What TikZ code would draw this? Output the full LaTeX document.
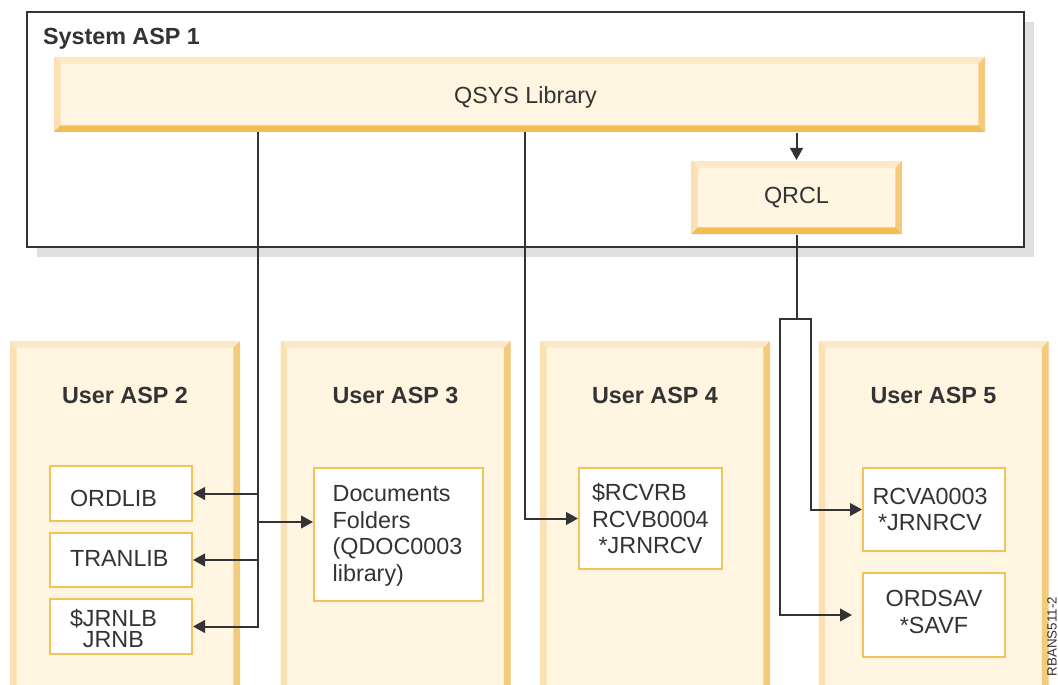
\documentclass[tikz,border=0pt]{standalone}
\usepackage{fontspec}
\setmainfont{Liberation Sans}
\usepackage{xcolor}
\usepackage{tikz}
\usetikzlibrary{arrows.meta,shadows}

\definecolor{cream}{HTML}{FFF5E1}
\definecolor{bevtop}{HTML}{FCE8C6}
\definecolor{bevleft}{HTML}{FAE0B2}
\definecolor{bevright}{HTML}{F4CB7C}
\definecolor{bevbot}{HTML}{F0BE52}
\definecolor{libline}{HTML}{F2C35A}
\definecolor{ink}{HTML}{333333}
\definecolor{shade}{HTML}{DFE0E2}

\newcommand\ppb{path picture bounding box}
\newcommand\bevw{5pt}

\begin{document}
\begin{tikzpicture}
        [x=0.75pt,y=-0.75pt,line width=1.5pt,color=ink,
        every node/.style={font=\fontsize{17.5}{20}\selectfont,text=ink,inner sep=0pt},
        ttl/.style={font=\fontsize{17.5}{20}\selectfont\bfseries},
        lib/.style={draw=libline,fill=white},
        arr/.style={-{Triangle[length=9pt,width=9.5pt]}},
        bevel/.style={fill=cream,path picture={
          \fill[bevtop] (\ppb.north west) -- (\ppb.north east) -- ([shift={(-\bevw,-\bevw)}]\ppb.north east) -- ([shift={(\bevw,-\bevw)}]\ppb.north west) -- cycle;
          \fill[bevleft] (\ppb.north west) -- ([shift={(\bevw,-\bevw)}]\ppb.north west) -- ([shift={(\bevw,\bevw)}]\ppb.south west) -- (\ppb.south west) -- cycle;
          \fill[bevright] (\ppb.north east) -- ([shift={(-\bevw,-\bevw)}]\ppb.north east) -- ([shift={(-\bevw,\bevw)}]\ppb.south east) -- (\ppb.south east) -- cycle;
          \fill[bevbot] (\ppb.south west) -- ([shift={(\bevw,\bevw)}]\ppb.south west) -- ([shift={(-\bevw,\bevw)}]\ppb.south east) -- (\ppb.south east) -- cycle;}}]
        \useasboundingbox (0,0) rectangle (1058,685);

        % system ASP
        \node[draw=ink,line width=1.8pt,fill=white,minimum width=747.75pt,minimum height=176.25pt,
          drop shadow={shadow xshift=7.5pt,shadow yshift=-7.5pt,fill=shade,opacity=1}] (sys) at (525.5,129.5) {};
        \node[ttl,anchor=base west] (sysname) at (42,45) {System ASP 1};
        \node[bevel,minimum width=698.25pt,minimum height=56.25pt] (qsys) at (519.5,94.5) {};
        \node (qsys-t) at ([xshift=4.5pt,yshift=-2.5pt]qsys) {QSYS Library};
        \node[bevel,minimum width=158.25pt,minimum height=54.75pt] (qrcl) at (796.5,197.5) {QRCL};

        % user ASPs
        \foreach \n/\x in {2/125,3/395.5,4/655,5/933.5} {
          \node[bevel,minimum width=172.5pt,minimum height=269.25pt] (asp\n) at (\x,520.5) {};
          \node[ttl] (asp\n-t) at ([yshift=-41.25pt]asp\n.north) {User ASP \n};
        }

        \node[lib,minimum width=106.5pt,minimum height=41.25pt] (ordlib) at (121,493.5) {};
        \node[lib,minimum width=106.5pt,minimum height=40.5pt] (tranlib) at (121,560) {};
        \node[lib,minimum width=106.5pt,minimum height=41.25pt] (jrnlb) at (121,626.5) {};
        \node[lib,minimum width=126.75pt,minimum height=99.75pt] (docs) at (398.5,534.5) {};
        \node[lib,minimum width=107.25pt,minimum height=75.75pt] (rcvrb) at (650.5,518.5) {};
        \node[lib,minimum width=106.5pt,minimum height=62.25pt] (rcva) at (934,509.5) {};
        \node[lib,minimum width=106.5pt,minimum height=63pt] (ordsav) at (934,615) {};

        \node[anchor=west] (ordlib-t) at ([xshift=15pt,yshift=-3.5pt]ordlib.west) {ORDLIB};
        \node[anchor=west] (tranlib-t) at ([xshift=15pt,yshift=1pt]tranlib.west) {TRANLIB};
        \node[anchor=west,align=center,font=\fontsize{17.5}{15.5}\selectfont] (jrnlb-t)
          at ([xshift=15pt,yshift=-1.5pt]jrnlb.west) {\$JRNLB\\JRNB};
        \node[anchor=west,align=left] (docs-t) at ([xshift=14pt,yshift=-1pt]docs.west) {Documents\\Folders\\(QDOC0003\\library)};
        \node[anchor=west,align=left] (rcvrb-t) at ([xshift=9.75pt]rcvrb.west) {\$RCVRB\\RCVB0004\\\hspace*{5pt}*JRNRCV};
        \node[align=center] (rcva-t) at ([xshift=-3pt]rcva) {RCVA0003\\{}*JRNRCV};
        \node[align=center] (ordsav-t) at ([yshift=2.25pt]ordsav) {ORDSAV\\{}*SAVF};

        \node[rotate=90,anchor=east,font=\fontsize{10}{11}\selectfont] (figid) at (1052,596) {RBANS511-2};

        % connectors
        \coordinate (tap2) at (258,132);
        \coordinate (tap3) at (258,522);
        \coordinate (tap4) at (525,132);
        \coordinate (fork) at (796.5,319);
        \coordinate (forkl) at (780,319);
        \coordinate (forkr) at (811,319);

        \draw[arr] (tap2) |- (jrnlb);
        \foreach \to in {ordlib,tranlib} \draw[arr] (tap2 |- \to) -- (\to);
        \draw[arr] (tap3) -- (tap3 -| docs.west);
        \draw[arr] (tap4) |- (rcvrb);
        \draw[arr] (qsys.south -| qrcl) -- (qrcl);
        \draw (qrcl.south) -- (fork);
        \draw[arr] (fork) -- (forkr) |- (rcva);
        \draw[arr,shorten >=7.5pt] (fork) -- (forkl) |- (ordsav);
    \end{tikzpicture}
\end{document}
